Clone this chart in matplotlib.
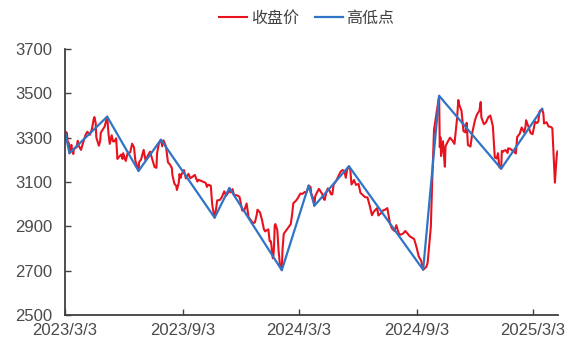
import matplotlib
matplotlib.use("Agg")
import matplotlib.pyplot as plt
import pandas as pd

plt.rcParams['font.family'] = ['Liberation Sans', 'Noto Sans CJK SC', 'DejaVu Sans']

close_dates = [
    "2023-03-03","2023-03-06","2023-03-07","2023-03-09","2023-03-10","2023-03-13","2023-03-14","2023-03-16",
    "2023-03-17","2023-03-21","2023-03-23","2023-03-24","2023-03-28","2023-03-31","2023-04-04","2023-04-07",
    "2023-04-11","2023-04-14","2023-04-17","2023-04-18","2023-04-20","2023-04-21","2023-04-25","2023-04-27",
    "2023-04-28","2023-05-04","2023-05-08","2023-05-10","2023-05-12","2023-05-15","2023-05-17","2023-05-19",
    "2023-05-22","2023-05-24","2023-05-26","2023-05-30","2023-06-01","2023-06-02","2023-06-06","2023-06-09",
    "2023-06-13","2023-06-16","2023-06-19","2023-06-21","2023-06-26","2023-06-27","2023-06-30","2023-07-04",
    "2023-07-07","2023-07-11","2023-07-14","2023-07-18","2023-07-21","2023-07-24","2023-07-25","2023-07-28",
    "2023-07-31","2023-08-02","2023-08-04","2023-08-08","2023-08-11","2023-08-14","2023-08-17","2023-08-18",
    "2023-08-21","2023-08-24","2023-08-25","2023-08-28","2023-08-29","2023-08-31","2023-09-01","2023-09-05",
    "2023-09-08","2023-09-12","2023-09-15","2023-09-19","2023-09-22","2023-09-26","2023-09-28","2023-10-09",
    "2023-10-11","2023-10-13","2023-10-17","2023-10-19","2023-10-20","2023-10-23","2023-10-25","2023-10-27",
    "2023-10-31","2023-11-03","2023-11-07","2023-11-10","2023-11-14","2023-11-15","2023-11-17","2023-11-20",
    "2023-11-22","2023-11-24","2023-11-28","2023-12-01","2023-12-05","2023-12-08","2023-12-12","2023-12-15",
    "2023-12-18","2023-12-21","2023-12-22","2023-12-25","2023-12-28","2023-12-29",
    "2024-01-02","2024-01-05","2024-01-08","2024-01-10","2024-01-12","2024-01-15","2024-01-17","2024-01-19",
    "2024-01-22","2024-01-23","2024-01-24","2024-01-25","2024-01-26","2024-01-29","2024-01-31","2024-02-02",
    "2024-02-05","2024-02-06","2024-02-07","2024-02-08","2024-02-19","2024-02-21","2024-02-23","2024-02-27",
    "2024-03-01","2024-03-05","2024-03-08","2024-03-12","2024-03-15","2024-03-18","2024-03-21","2024-03-22",
    "2024-03-25","2024-03-27","2024-03-28","2024-03-29","2024-04-03","2024-04-08","2024-04-10","2024-04-12",
    "2024-04-15","2024-04-17","2024-04-19","2024-04-22","2024-04-24","2024-04-26","2024-04-30","2024-05-07",
    "2024-05-10","2024-05-13","2024-05-15","2024-05-17","2024-05-20","2024-05-22","2024-05-24","2024-05-28",
    "2024-05-31","2024-06-04","2024-06-07","2024-06-12","2024-06-14","2024-06-18","2024-06-21","2024-06-25",
    "2024-06-28","2024-07-03","2024-07-05","2024-07-09","2024-07-12","2024-07-16","2024-07-19","2024-07-23",
    "2024-07-26","2024-07-30","2024-08-02","2024-08-06","2024-08-09","2024-08-13","2024-08-16","2024-08-20",
    "2024-08-23","2024-08-27","2024-08-30","2024-09-03","2024-09-06","2024-09-10","2024-09-13","2024-09-18",
    "2024-09-20","2024-09-24","2024-09-25","2024-09-26","2024-09-27","2024-09-30","2024-10-08","2024-10-09",
    "2024-10-10","2024-10-11","2024-10-14","2024-10-16","2024-10-17","2024-10-18","2024-10-22","2024-10-25",
    "2024-10-29","2024-11-01","2024-11-05","2024-11-07","2024-11-08","2024-11-12","2024-11-15","2024-11-18",
    "2024-11-20","2024-11-22","2024-11-26","2024-11-29","2024-12-03","2024-12-06","2024-12-10","2024-12-12",
    "2024-12-13","2024-12-17","2024-12-20","2024-12-24","2024-12-27","2024-12-31",
    "2025-01-02","2025-01-03","2025-01-06","2025-01-08","2025-01-10","2025-01-13","2025-01-14","2025-01-16",
    "2025-01-17","2025-01-20","2025-01-23","2025-01-24","2025-01-27","2025-02-05","2025-02-07","2025-02-11",
    "2025-02-14","2025-02-18","2025-02-20","2025-02-21","2025-02-25","2025-02-28","2025-03-03","2025-03-05",
    "2025-03-07","2025-03-10","2025-03-12","2025-03-14","2025-03-18","2025-03-20","2025-03-21","2025-03-25",
    "2025-03-28","2025-04-01","2025-04-03","2025-04-07","2025-04-08","2025-04-09","2025-04-10","2025-04-11",
]
close_values = [
    3328,3322,3285,3276,3230,3268,3245,3226,
    3250,3256,3286,3266,3245,3273,3312,3327,
    3313,3338,3385,3393,3367,3301,3264,3285,
    3323,3350,3395,3319,3272,3311,3284,3283,
    3297,3204,3212,3224,3204,3230,3195,3231,
    3234,3273,3255,3197,3150,3190,3202,3245,
    3197,3222,3237,3198,3168,3164,3231,3276,
    3291,3261,3288,3260,3189,3179,3164,3131,
    3093,3082,3064,3098,3136,3119,3133,3154,
    3116,3137,3117,3125,3132,3102,3110,3096,
    3078,3088,3083,3005,2983,2939,2974,3017,
    3019,3030,3058,3038,3056,3073,3054,3068,
    3043,3041,3039,3032,2972,2969,3003,2942,
    2930,2918,2914,2918,2955,2975,
    2962,2929,2887,2877,2882,2886,2833,2832,
    2756,2770,2820,2906,2910,2883,2789,2730,
    2702,2789,2829,2866,2910,2951,3004,3015,
    3027,3048,3046,3055,3054,3084,3077,3048,
    3027,2993,3031,3041,3069,3047,3027,3019,
    3057,3071,3065,3045,3044,3088,3105,3147,
    3154,3148,3119,3154,3171,3158,3089,3109,
    3087,3091,3051,3037,3032,3030,2998,2950,
    2967,2982,2949,2959,2971,2976,2982,2915,
    2891,2879,2905,2867,2862,2868,2879,2866,
    2855,2848,2842,2802,2765,2744,2704,2717,
    2736,2863,2896,3000,3088,3336,3489,3258,
    3301,3217,3284,3202,3169,3261,3285,3300,
    3286,3272,3387,3470,3452,3421,3330,3324,
    3367,3267,3260,3326,3378,3404,3422,3461,
    3392,3361,3368,3393,3400,3352,
    3262,3211,3206,3230,3168,3160,3240,3236,
    3241,3244,3231,3252,3250,3229,3303,3318,
    3346,3324,3350,3379,3347,3321,3316,3342,
    3373,3366,3372,3419,3430,3408,3364,3370,
    3351,3348,3342,3097,3145,3186,3224,3238,
]

pivot_dates = [
    "2023-03-03","2023-03-10","2023-05-08","2023-06-26","2023-07-31","2023-10-23",
    "2023-11-15","2024-02-05","2024-03-18","2024-03-27","2024-05-20","2024-09-13",
    "2024-10-08","2025-01-13","2025-03-18",
]
pivot_values = [3328,3230,3395,3150,3291,2939,3073,2702,3084,2993,3171,2704,3489,3160,3430]

x_ticks = ["2023-03-03","2023-09-03","2024-03-03","2024-09-03","2025-03-03"]
x_tick_labels = ["2023/3/3","2023/9/3","2024/3/3","2024/9/3","2025/3/3"]
y_ticks = [2500, 2700, 2900, 3100, 3300, 3500, 3700]

fig = plt.figure(figsize=(5.73, 3.48), dpi=100)
ax = fig.add_axes([0.1134, 0.095, 0.8606, 0.764])

red = '#E8121E'
blue = '#2E75C6'
ax.plot(pd.to_datetime(close_dates), close_values, color=red, lw=1.5, label='收盘价')
ax.plot(pd.to_datetime(pivot_dates), pivot_values, color=blue, lw=1.6, label='高低点')

ax.set_ylim(2500, 3700)
ax.set_yticks(y_ticks)
ax.set_xlim(pd.Timestamp("2023-03-03"), pd.Timestamp("2025-04-12"))
ax.set_xticks(pd.to_datetime(x_ticks))
ax.set_xticklabels(x_tick_labels)

for s in ['top', 'right']:
    ax.spines[s].set_visible(False)
for s in ['left', 'bottom']:
    ax.spines[s].set_color('#404040')
    ax.spines[s].set_linewidth(1.3)
ax.tick_params(axis='both', direction='in', length=4, width=1, color='#404040',
               labelsize=12, labelcolor='#4a4a4a')
ax.tick_params(axis='x', pad=5.5)
ax.tick_params(axis='y', pad=9)

leg = fig.legend(loc='center', bbox_to_anchor=(0.535, 0.948), ncol=2, frameon=False,
                 prop={'family': ['Noto Sans CJK SC', 'DejaVu Sans'], 'size': 11.5},
                 handlelength=1.8, handletextpad=0.2, columnspacing=1.0)
for t in leg.get_texts():
    t.set_color('#404040')

fig.savefig('out.png', dpi=100)
